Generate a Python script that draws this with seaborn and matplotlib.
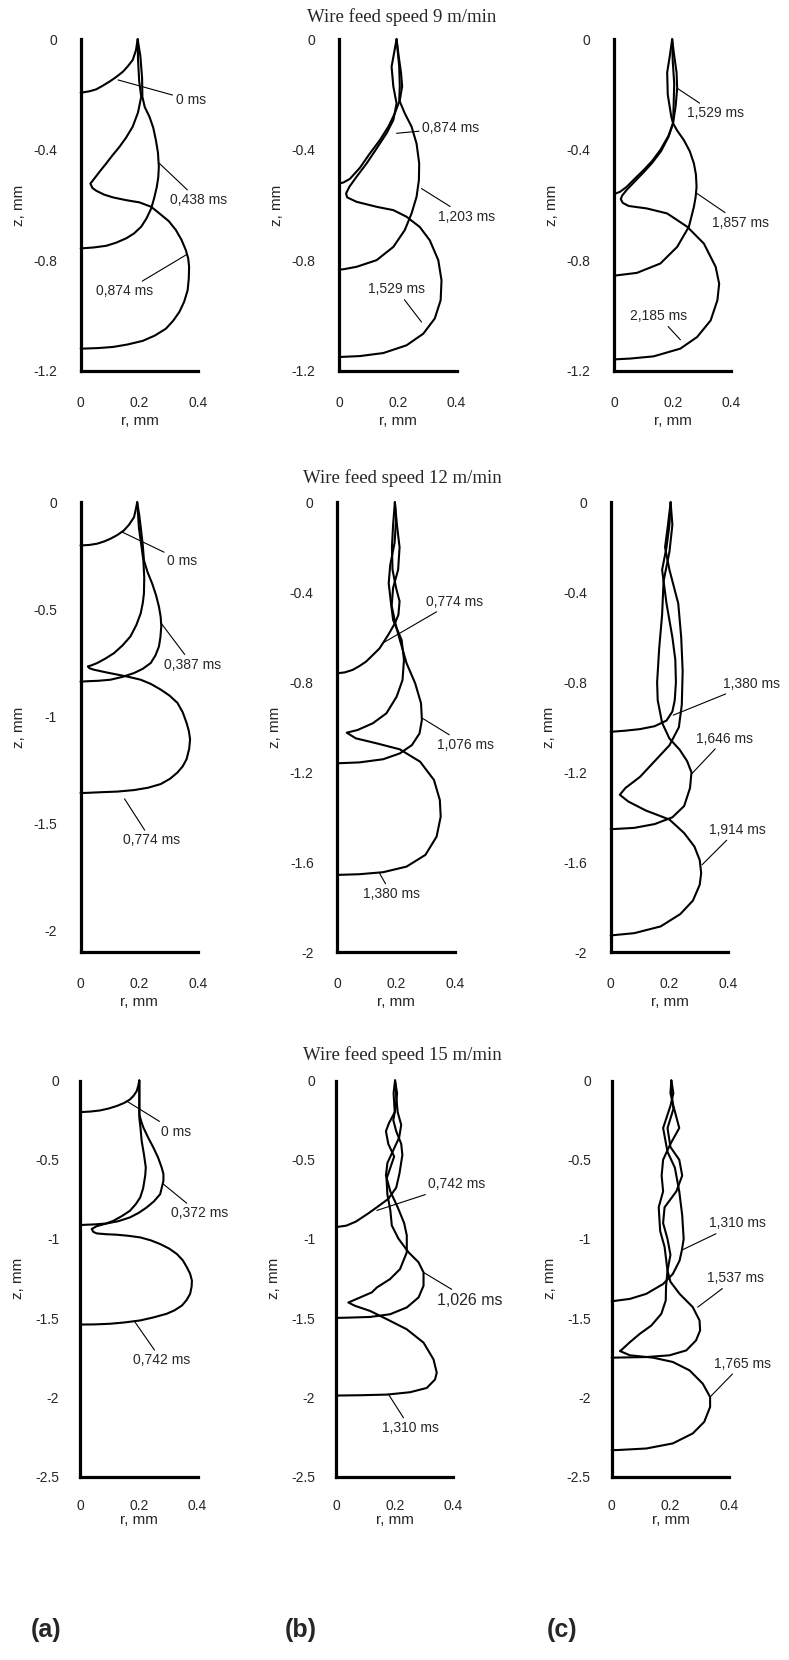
import matplotlib
matplotlib.use("Agg")
import matplotlib.pyplot as plt
import seaborn as sns

sns.set_style("white")
plt.rcParams['font.family'] = ['Liberation Sans', 'DejaVu Sans']
plt.rcParams['axes.unicode_minus'] = False

# ---------------- data: droplet profiles (r, z) in mm ----------------
# Wire feed speed 9 m/min
r_9a_0 = [0.194, 0.188, 0.177, 0.160, 0.144, 0.120, 0.098, 0.075, 0.053, 0.030, 0.008, 0.0]
z_9a_0 = [0.0, -0.04, -0.075, -0.098, -0.117, -0.137, -0.153, -0.168, -0.181, -0.188, -0.192, -0.193]
r_9a_1 = [0.194, 0.203, 0.209, 0.210, 0.218, 0.234, 0.247, 0.256, 0.263, 0.266, 0.264, 0.259, 0.250, 0.240, 0.224, 0.206, 0.182, 0.155, 0.120, 0.087, 0.045, 0.006, 0.0]
z_9a_1 = [0.0, -0.06, -0.14, -0.208, -0.245, -0.28, -0.32, -0.365, -0.41, -0.461, -0.50, -0.534, -0.575, -0.612, -0.648, -0.678, -0.702, -0.72, -0.736, -0.747, -0.753, -0.756, -0.756]
r_9a_2 = [0.194, 0.195, 0.199, 0.206, 0.195, 0.177, 0.155, 0.132, 0.108, 0.087, 0.065, 0.047, 0.033, 0.040, 0.053, 0.080, 0.110, 0.155, 0.200, 0.240, 0.268, 0.300, 0.324, 0.343, 0.358, 0.366, 0.369, 0.368, 0.364, 0.352, 0.336, 0.315, 0.290, 0.252, 0.211, 0.160, 0.110, 0.060, 0.008, 0.0]
z_9a_2 = [0.0, -0.07, -0.15, -0.208, -0.265, -0.316, -0.355, -0.389, -0.42, -0.449, -0.478, -0.503, -0.522, -0.538, -0.548, -0.562, -0.572, -0.582, -0.59, -0.606, -0.63, -0.658, -0.69, -0.725, -0.763, -0.793, -0.823, -0.865, -0.908, -0.95, -0.986, -1.018, -1.047, -1.072, -1.091, -1.104, -1.113, -1.117, -1.119, -1.119]

r_9b_0 = [0.196, 0.203, 0.211, 0.215, 0.207, 0.190, 0.168, 0.139, 0.105, 0.071, 0.037, 0.015, 0.0]
z_9b_0 = [0.0, -0.06, -0.12, -0.17, -0.22, -0.268, -0.316, -0.365, -0.413, -0.465, -0.505, -0.518, -0.522]
r_9b_1 = [0.196, 0.205, 0.207, 0.205, 0.224, 0.247, 0.264, 0.273, 0.272, 0.264, 0.247, 0.224, 0.185, 0.128, 0.060, 0.015, 0.0]
z_9b_1 = [0.0, -0.099, -0.171, -0.22, -0.268, -0.316, -0.377, -0.449, -0.509, -0.57, -0.63, -0.69, -0.751, -0.799, -0.823, -0.832, -0.833]
r_9b_2 = [0.196, 0.179, 0.185, 0.196, 0.185, 0.162, 0.128, 0.094, 0.060, 0.035, 0.024, 0.028, 0.060, 0.128, 0.185, 0.230, 0.275, 0.309, 0.338, 0.349, 0.346, 0.326, 0.287, 0.230, 0.151, 0.071, 0.009, 0.0]
z_9b_2 = [0.0, -0.099, -0.171, -0.232, -0.292, -0.34, -0.395, -0.449, -0.497, -0.534, -0.558, -0.572, -0.588, -0.606, -0.618, -0.642, -0.679, -0.727, -0.799, -0.872, -0.944, -1.01, -1.065, -1.107, -1.135, -1.146, -1.149, -1.149]

r_9c_0 = [0.198, 0.205, 0.213, 0.215, 0.210, 0.201, 0.185, 0.158, 0.130, 0.101, 0.070, 0.043, 0.020, 0.0]
z_9c_0 = [0.0, -0.06, -0.12, -0.177, -0.24, -0.304, -0.35, -0.40, -0.44, -0.473, -0.505, -0.534, -0.552, -0.56]
r_9c_1 = [0.198, 0.200, 0.205, 0.203, 0.201, 0.215, 0.238, 0.258, 0.272, 0.279, 0.281, 0.278, 0.272, 0.255, 0.215, 0.158, 0.078, 0.009, 0.0]
z_9c_1 = [0.0, -0.08, -0.16, -0.24, -0.304, -0.33, -0.365, -0.405, -0.449, -0.49, -0.534, -0.57, -0.606, -0.678, -0.751, -0.811, -0.845, -0.854, -0.855]
r_9c_2 = [0.198, 0.190, 0.181, 0.183, 0.195, 0.201, 0.186, 0.160, 0.130, 0.100, 0.070, 0.043, 0.028, 0.023, 0.030, 0.050, 0.112, 0.181, 0.249, 0.306, 0.346, 0.358, 0.352, 0.329, 0.283, 0.226, 0.135, 0.055, 0.0]
z_9c_2 = [0.0, -0.06, -0.12, -0.20, -0.28, -0.304, -0.352, -0.405, -0.447, -0.482, -0.515, -0.545, -0.565, -0.578, -0.592, -0.603, -0.612, -0.63, -0.678, -0.739, -0.823, -0.884, -0.944, -1.017, -1.077, -1.119, -1.147, -1.155, -1.158]

# Wire feed speed 12 m/min
r_12a_0 = [0.193, 0.188, 0.182, 0.165, 0.148, 0.125, 0.102, 0.080, 0.057, 0.030, 0.006, 0.0]
z_12a_0 = [0.0, -0.035, -0.07, -0.105, -0.131, -0.153, -0.17, -0.183, -0.193, -0.199, -0.201, -0.201]
r_12a_1 = [0.193, 0.200, 0.205, 0.212, 0.216, 0.228, 0.244, 0.257, 0.267, 0.273, 0.275, 0.272, 0.267, 0.255, 0.239, 0.212, 0.182, 0.142, 0.102, 0.060, 0.023, 0.0]
z_12a_1 = [0.0, -0.06, -0.116, -0.2, -0.271, -0.325, -0.379, -0.433, -0.487, -0.535, -0.58, -0.63, -0.673, -0.715, -0.75, -0.777, -0.797, -0.815, -0.828, -0.833, -0.835, -0.837]
r_12a_2 = [0.193, 0.196, 0.199, 0.207, 0.214, 0.217, 0.216, 0.212, 0.205, 0.190, 0.170, 0.143, 0.114, 0.085, 0.057, 0.035, 0.025, 0.030, 0.045, 0.085, 0.125, 0.165, 0.205, 0.240, 0.273, 0.303, 0.330, 0.348, 0.361, 0.369, 0.373, 0.370, 0.361, 0.348, 0.330, 0.305, 0.273, 0.230, 0.182, 0.125, 0.068, 0.020, 0.0]
z_12a_2 = [0.0, -0.06, -0.12, -0.2, -0.271, -0.35, -0.425, -0.47, -0.518, -0.573, -0.626, -0.668, -0.704, -0.729, -0.75, -0.762, -0.766, -0.774, -0.781, -0.793, -0.804, -0.815, -0.828, -0.848, -0.874, -0.902, -0.936, -0.98, -1.029, -1.068, -1.106, -1.15, -1.199, -1.232, -1.261, -1.29, -1.315, -1.332, -1.343, -1.35, -1.353, -1.356, -1.357]

r_12b_0 = [0.196, 0.190, 0.186, 0.188, 0.200, 0.212, 0.208, 0.196, 0.173, 0.144, 0.120, 0.098, 0.075, 0.052, 0.025, 0.0]
z_12b_0 = [0.0, -0.1, -0.2, -0.3, -0.38, -0.44, -0.5, -0.538, -0.59, -0.649, -0.68, -0.708, -0.728, -0.745, -0.756, -0.76]
r_12b_1 = [0.196, 0.203, 0.212, 0.207, 0.190, 0.185, 0.198, 0.213, 0.236, 0.265, 0.285, 0.288, 0.280, 0.254, 0.213, 0.156, 0.075, 0.0]
z_12b_1 = [0.0, -0.1, -0.2, -0.3, -0.38, -0.46, -0.54, -0.612, -0.716, -0.804, -0.893, -0.967, -1.027, -1.079, -1.116, -1.142, -1.156, -1.16]
r_12b_2 = [0.196, 0.200, 0.195, 0.180, 0.175, 0.182, 0.190, 0.219, 0.227, 0.222, 0.202, 0.167, 0.121, 0.069, 0.032, 0.063, 0.133, 0.213, 0.282, 0.329, 0.349, 0.352, 0.338, 0.300, 0.236, 0.156, 0.075, 0.0]
z_12b_2 = [0.0, -0.08, -0.18, -0.28, -0.36, -0.44, -0.523, -0.612, -0.7, -0.79, -0.864, -0.938, -0.982, -1.012, -1.024, -1.049, -1.071, -1.098, -1.153, -1.234, -1.323, -1.397, -1.486, -1.567, -1.619, -1.644, -1.653, -1.656]

r_12c_0 = [0.204, 0.200, 0.190, 0.175, 0.190, 0.210, 0.220, 0.222, 0.218, 0.210, 0.190, 0.150, 0.100, 0.050, 0.0]
z_12c_0 = [0.0, -0.1, -0.2, -0.3, -0.45, -0.6, -0.7, -0.8, -0.88, -0.93, -0.97, -0.995, -1.008, -1.015, -1.02]
r_12c_1 = [0.204, 0.210, 0.200, 0.180, 0.175, 0.165, 0.158, 0.160, 0.175, 0.200, 0.235, 0.260, 0.275, 0.270, 0.250, 0.210, 0.150, 0.080, 0.0]
z_12c_1 = [0.0, -0.1, -0.22, -0.35, -0.5, -0.65, -0.8, -0.88, -0.98, -1.05, -1.1, -1.15, -1.2, -1.27, -1.35, -1.4, -1.43, -1.447, -1.453]
r_12c_2 = [0.204, 0.195, 0.185, 0.200, 0.230, 0.240, 0.245, 0.242, 0.232, 0.200, 0.150, 0.100, 0.050, 0.031, 0.060, 0.120, 0.200, 0.250, 0.285, 0.303, 0.308, 0.303, 0.280, 0.237, 0.170, 0.080, 0.0]
z_12c_2 = [0.0, -0.1, -0.2, -0.3, -0.45, -0.6, -0.75, -0.9, -1.0, -1.08, -1.15, -1.22, -1.27, -1.3, -1.33, -1.37, -1.41, -1.47, -1.53, -1.59, -1.648, -1.7, -1.77, -1.83, -1.885, -1.915, -1.925]

# Wire feed speed 15 m/min
r_15a_0 = [0.202, 0.198, 0.193, 0.183, 0.170, 0.150, 0.125, 0.097, 0.068, 0.035, 0.006, 0.0]
z_15a_0 = [0.0, -0.035, -0.067, -0.095, -0.12, -0.142, -0.161, -0.177, -0.189, -0.196, -0.199, -0.199]
r_15a_1 = [0.202, 0.202, 0.202, 0.208, 0.216, 0.232, 0.250, 0.266, 0.278, 0.284, 0.284, 0.273, 0.252, 0.227, 0.200, 0.170, 0.130, 0.091, 0.050, 0.023, 0.0]
z_15a_1 = [0.0, -0.1, -0.214, -0.255, -0.298, -0.36, -0.424, -0.487, -0.549, -0.59, -0.633, -0.717, -0.762, -0.801, -0.835, -0.864, -0.888, -0.902, -0.908, -0.91, -0.912]
r_15a_2 = [0.202, 0.202, 0.202, 0.206, 0.210, 0.218, 0.224, 0.222, 0.215, 0.205, 0.190, 0.170, 0.143, 0.114, 0.085, 0.057, 0.040, 0.045, 0.057, 0.090, 0.125, 0.165, 0.205, 0.240, 0.273, 0.303, 0.330, 0.350, 0.364, 0.375, 0.381, 0.380, 0.375, 0.363, 0.347, 0.322, 0.295, 0.250, 0.205, 0.150, 0.102, 0.050, 0.0]
z_15a_2 = [0.0, -0.1, -0.235, -0.3, -0.382, -0.47, -0.549, -0.6, -0.68, -0.738, -0.78, -0.822, -0.855, -0.885, -0.905, -0.919, -0.937, -0.955, -0.965, -0.97, -0.973, -0.98, -0.99, -1.008, -1.032, -1.06, -1.095, -1.135, -1.179, -1.22, -1.263, -1.3, -1.346, -1.385, -1.42, -1.45, -1.472, -1.495, -1.514, -1.527, -1.535, -1.539, -1.54]

r_15b_0 = [0.201, 0.208, 0.203, 0.195, 0.205, 0.222, 0.226, 0.220, 0.216, 0.205, 0.178, 0.145, 0.112, 0.068, 0.035, 0.0]
z_15b_0 = [0.0, -0.08, -0.17, -0.25, -0.32, -0.4, -0.47, -0.54, -0.587, -0.676, -0.747, -0.792, -0.836, -0.89, -0.916, -0.925]
r_15b_1 = [0.201, 0.196, 0.200, 0.180, 0.170, 0.178, 0.198, 0.185, 0.172, 0.175, 0.185, 0.190, 0.213, 0.247, 0.281, 0.298, 0.298, 0.281, 0.241, 0.184, 0.116, 0.048, 0.0]
z_15b_1 = [0.0, -0.08, -0.2, -0.27, -0.32, -0.4, -0.48, -0.55, -0.62, -0.72, -0.82, -0.915, -0.999, -1.084, -1.147, -1.211, -1.295, -1.369, -1.432, -1.475, -1.492, -1.496, -1.498]
r_15b_2 = [0.201, 0.205, 0.210, 0.222, 0.215, 0.195, 0.175, 0.170, 0.185, 0.210, 0.232, 0.241, 0.241, 0.218, 0.184, 0.139, 0.122, 0.082, 0.042, 0.065, 0.116, 0.173, 0.241, 0.298, 0.332, 0.343, 0.337, 0.309, 0.252, 0.173, 0.082, 0.0]
z_15b_2 = [0.0, -0.1, -0.2, -0.28, -0.36, -0.44, -0.52, -0.6, -0.7, -0.8, -0.9, -0.978, -1.084, -1.19, -1.253, -1.306, -1.337, -1.369, -1.401, -1.422, -1.454, -1.506, -1.57, -1.654, -1.76, -1.844, -1.887, -1.94, -1.967, -1.982, -1.986, -1.988]

r_15c_0 = [0.203, 0.210, 0.200, 0.175, 0.190, 0.215, 0.230, 0.240, 0.245, 0.239, 0.231, 0.208, 0.175, 0.118, 0.062, 0.0]
z_15c_0 = [0.0, -0.08, -0.16, -0.3, -0.45, -0.55, -0.7, -0.85, -1.0, -1.07, -1.137, -1.221, -1.284, -1.346, -1.378, -1.393]
r_15c_1 = [0.203, 0.200, 0.210, 0.230, 0.200, 0.175, 0.170, 0.175, 0.160, 0.165, 0.180, 0.190, 0.200, 0.231, 0.276, 0.299, 0.301, 0.287, 0.254, 0.197, 0.118, 0.0]
z_15c_1 = [0.0, -0.08, -0.16, -0.3, -0.4, -0.5, -0.6, -0.7, -0.8, -0.95, -1.05, -1.2, -1.27, -1.346, -1.43, -1.514, -1.577, -1.64, -1.703, -1.734, -1.745, -1.749]
r_15c_2 = [0.203, 0.205, 0.210, 0.190, 0.200, 0.230, 0.240, 0.220, 0.180, 0.175, 0.190, 0.200, 0.190, 0.185, 0.184, 0.169, 0.135, 0.096, 0.062, 0.034, 0.028, 0.062, 0.141, 0.208, 0.265, 0.310, 0.335, 0.335, 0.315, 0.276, 0.208, 0.118, 0.017, 0.0]
z_15c_2 = [0.0, -0.1, -0.18, -0.3, -0.42, -0.5, -0.6, -0.7, -0.8, -0.9, -1.0, -1.1, -1.2, -1.3, -1.388, -1.472, -1.546, -1.598, -1.651, -1.699, -1.707, -1.734, -1.749, -1.776, -1.829, -1.913, -1.997, -2.06, -2.154, -2.227, -2.29, -2.322, -2.332, -2.332]

# labels of the curves (time instants)
labels_9a = ["0 ms", "0,438 ms", "0,874 ms"]
labels_9b = ["0,874 ms", "1,203 ms", "1,529 ms"]
labels_9c = ["1,529 ms", "1,857 ms", "2,185 ms"]
labels_12a = ["0 ms", "0,387 ms", "0,774 ms"]
labels_12b = ["0,774 ms", "1,076 ms", "1,380 ms"]
labels_12c = ["1,380 ms", "1,646 ms", "1,914 ms"]
labels_15a = ["0 ms", "0,372 ms", "0,742 ms"]
labels_15b = ["0,742 ms", "1,026 ms", "1,310 ms"]
labels_15c = ["1,310 ms", "1,537 ms", "1,765 ms"]

row_titles = ["Wire feed speed 9 m/min", "Wire feed speed 12 m/min", "Wire feed speed 15 m/min"]
col_tags = ["(a)", "(b)", "(c)"]

x_major = [0, 0.2, 0.4]
x_minor = [0.1, 0.3]
y_major_12 = [0, -0.4, -0.8, -1.2]
y_minor_12 = [-0.2, -0.6, -1.0]
y_major_05 = [0, -0.5, -1, -1.5, -2]
y_minor_05 = [-0.25, -0.75, -1.25, -1.75]
y_major_20 = [0, -0.4, -0.8, -1.2, -1.6, -2]
y_minor_20 = [-0.2, -0.6, -1.0, -1.4, -1.8]
y_major_25 = [0, -0.5, -1, -1.5, -2, -2.5]
y_minor_25 = [-0.25, -0.75, -1.25, -1.75, -2.25]

# ---------------- layout (pixels of a 789 x 1660 figure) ----------------
W, H = 789, 1660
fig = plt.figure(figsize=(W / 100, H / 100), dpi=100)

rows = [
    dict(top=39.3, bottom=371.0, lefts=[80.7, 339.0, 614.0],
         ylims=[-1.2, -1.2, -1.2],
         yticks=[(y_major_12, y_minor_12)] * 3,
         panels=[((r_9a_0, z_9a_0), (r_9a_1, z_9a_1), (r_9a_2, z_9a_2)),
                 ((r_9b_0, z_9b_0), (r_9b_1, z_9b_1), (r_9b_2, z_9b_2)),
                 ((r_9c_0, z_9c_0), (r_9c_1, z_9c_1), (r_9c_2, z_9c_2))],
         labels=[labels_9a, labels_9b, labels_9c],
         ann=[[((0.127, -0.147), (0.375, -0.22)), ((0.268, -0.449), (0.40, -0.582)), ((0.362, -0.778), (0.151, -0.912))],
              [((0.196, -0.34), (0.381, -0.322)), ((0.281, -0.54), (0.434, -0.642)), ((0.281, -1.023), (0.196, -0.905))],
              [((0.215, -0.177), (0.344, -0.268)), ((0.283, -0.558), (0.429, -0.664)), ((0.226, -1.087), (0.152, -1.002))]],
         title_y=17, tick_len=11, xlab_off=43),
    dict(top=502.3, bottom=952.3, lefts=[80.5, 337.3, 610.7],
         ylims=[-2.1, -2.0, -2.0],
         yticks=[(y_major_05, y_minor_05), (y_major_20, y_minor_20), (y_major_20, y_minor_20)],
         panels=[((r_12a_0, z_12a_0), (r_12a_1, z_12a_1), (r_12a_2, z_12a_2)),
                 ((r_12b_0, z_12b_0), (r_12b_1, z_12b_1), (r_12b_2, z_12b_2)),
                 ((r_12c_0, z_12c_0), (r_12c_1, z_12c_1), (r_12c_2, z_12c_2))],
         labels=[labels_12a, labels_12b, labels_12c],
         ann=[[((0.142, -0.139), (0.347, -0.274)), ((0.275, -0.565), (0.381, -0.758)), ((0.15, -1.384), (0.241, -1.578))],
              [((0.153, -0.627), (0.398, -0.441)), ((0.29, -0.96), (0.438, -1.079)), ((0.144, -1.649), (0.184, -1.741))],
              [((0.213, -0.946), (0.478, -0.806)), ((0.277, -1.205), (0.389, -1.05)), ((0.311, -1.611), (0.43, -1.456))]],
         title_y=478, tick_len=11, xlab_off=43),
    dict(top=1080.5, bottom=1476.7, lefts=[80.0, 336.0, 611.7],
         ylims=[-2.5, -2.5, -2.5],
         yticks=[(y_major_25, y_minor_25)] * 3,
         panels=[((r_15a_0, z_15a_0), (r_15a_1, z_15a_1), (r_15a_2, z_15a_2)),
                 ((r_15b_0, z_15b_0), (r_15b_1, z_15b_1), (r_15b_2, z_15b_2)),
                 ((r_15c_0, z_15c_0), (r_15c_1, z_15c_1), (r_15c_2, z_15c_2))],
         labels=[labels_15a, labels_15b, labels_15c],
         ann=[[((0.159, -0.13), (0.327, -0.323)), ((0.284, -0.654), (0.406, -0.839)), ((0.1875, -1.525), (0.278, -1.766))],
              [((0.139, -0.82), (0.411, -0.655)), ((0.298, -1.211), (0.455, -1.386)), ((0.178, -1.978), (0.252, -2.193))],
              [((0.239, -1.07), (0.428, -0.902)), ((0.293, -1.43), (0.423, -1.248)), ((0.335, -1.997), (0.445, -1.787))]],
         title_y=1055, tick_len=9, xlab_off=36),
]
AX_W = 117.5

for ri, row in enumerate(rows):
    h = row["bottom"] - row["top"]
    for ci in range(3):
        left = row["lefts"][ci]
        ax = fig.add_axes([left / W, 1 - row["bottom"] / H, AX_W / W, h / H])
        for (r, z) in row["panels"][ci]:
            sns.lineplot(x=r, y=z, sort=False, estimator=None, color="black",
                         linewidth=1.5, ax=ax, legend=False)
        for ln in ax.lines:
            ln.set_clip_on(False)
        ax.set_xlim(0, 0.4)
        ax.set_ylim(row["ylims"][ci], 0)
        ymaj, ymin = row["yticks"][ci]
        ax.set_xticks(x_major)
        ax.set_xticks(x_minor, minor=True)
        ax.set_xticklabels(["%g" % v for v in x_major])
        ax.set_yticks(ymaj)
        ax.set_yticks(ymin, minor=True)
        ax.set_yticklabels(["%g" % v for v in ymaj])
        for s in ["top", "right"]:
            ax.spines[s].set_visible(False)
        for s in ["left", "bottom"]:
            ax.spines[s].set_linewidth(2.3)
            ax.spines[s].set_color("black")
        tl = row["tick_len"]
        ax.tick_params(which="major", direction="out", length=tl, width=2.3,
                       labelsize=10, color="black")
        ax.tick_params(which="minor", direction="out", length=tl * 0.5, width=2.3, color="black")
        ax.tick_params(axis="x", which="major", pad=7)
        ax.tick_params(axis="y", which="major", pad=6)
        ax.set_xlabel("r, mm", fontsize=11)
        ax.set_ylabel("z, mm", fontsize=11)
        ax.xaxis.set_label_coords(0.5, -row["xlab_off"] / h)
        ax.yaxis.set_label_coords(-55 / AX_W, 0.5)
        for lab, (xy, xyt) in zip(row["labels"][ci], row["ann"][ci]):
            fs = 11.5 if (ri == 2 and ci == 1 and lab == "1,026 ms") else 10
            ax.annotate(lab, xy=xy, xytext=xyt, textcoords="data",
                        ha="center", va="center", fontsize=fs,
                        annotation_clip=False,
                        arrowprops=dict(arrowstyle="-", color="black", lw=0.8,
                                        shrinkA=0, shrinkB=0))
    fig.text(402 / W, 1 - row["title_y"] / H, row_titles[ri], ha="center", va="center",
             fontsize=13.5, family=["Liberation Serif", "DejaVu Serif"])

for ci, tag in enumerate(col_tags):
    xc = [46, 301, 562][ci]
    fig.text(xc / W, 1 - 1630 / H, tag, ha="center", va="center",
             fontsize=18, fontweight="bold")

fig.savefig("out.png", dpi=100, facecolor="white")
